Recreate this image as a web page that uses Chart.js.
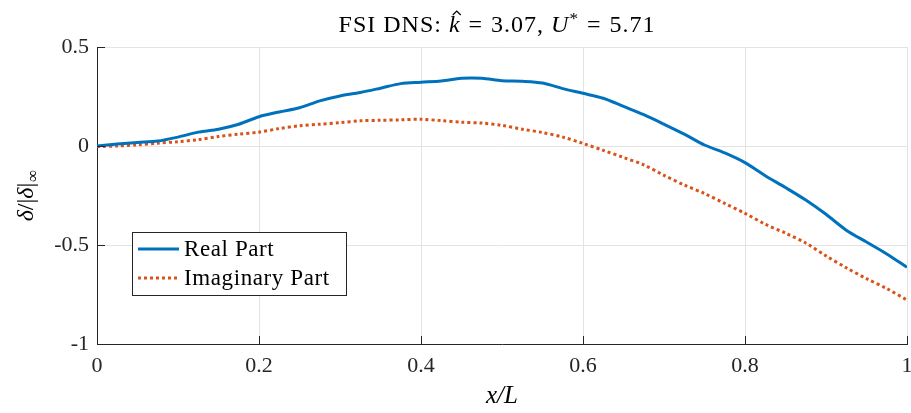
<!DOCTYPE html>
<html>
<head>
<meta charset="utf-8">
<script src="https://cdn.jsdelivr.net/npm/chart.js@4"></script>
<style>
  html, body { margin: 0; padding: 0; background: #fff; }
  #grafico { display: block; }
</style>
</head>
<body>
<canvas id="grafico" width="911" height="413"></canvas>
<script>
// dados
var posicoes = [0, 0.025, 0.05, 0.075, 0.1, 0.125, 0.15, 0.175, 0.2, 0.225, 0.25, 0.275, 0.3, 0.325, 0.35, 0.375, 0.4,
  0.425, 0.45, 0.475, 0.5, 0.525, 0.55, 0.575, 0.6, 0.625, 0.65, 0.675, 0.7, 0.725, 0.75, 0.775, 0.8, 0.825, 0.85,
  0.875, 0.9, 0.925, 0.95, 0.975, 1.0];
var parteReal = [0.0, 0.01, 0.018, 0.025, 0.045, 0.07, 0.085, 0.11, 0.148, 0.172, 0.193, 0.228, 0.253, 0.27, 0.292,
  0.315, 0.322, 0.328, 0.342, 0.342, 0.33, 0.327, 0.318, 0.29, 0.266, 0.241, 0.2, 0.158, 0.11, 0.06, 0.005, -0.035,
  -0.084, -0.15, -0.21, -0.273, -0.345, -0.425, -0.485, -0.545, -0.613];
var parteImag = [-0.003, 0.0, 0.006, 0.014, 0.022, 0.032, 0.048, 0.06, 0.07, 0.088, 0.102, 0.11, 0.118, 0.127, 0.13,
  0.132, 0.135, 0.128, 0.12, 0.116, 0.104, 0.085, 0.068, 0.045, 0.013, -0.022, -0.058, -0.095, -0.148, -0.197, -0.24,
  -0.29, -0.34, -0.395, -0.44, -0.49, -0.555, -0.615, -0.67, -0.72, -0.778];
var nomesSeries = ['Real Part', 'Imaginary Part'];
var ticksX = [0, 0.2, 0.4, 0.6, 0.8, 1];
var ticksY = [-1, -0.5, 0, 0.5];

var AZUL = '#0072BD';
var LARANJA = '#D95319';
var EIXO = '#262626';
var SERIF = '"Liberation Serif", "DejaVu Serif", serif';

function pontos(ys) {
  var lista = [];
  for (var i = 0; i < posicoes.length; i++) {
    lista.push({ x: posicoes[i], y: ys[i] });
  }
  return lista;
}

function fonte(t) {
  return (t.italico ? 'italic ' : '') + (t.tamanho || 22) + 'px ' + SERIF;
}

// desenha uma sequencia de pedacos de texto com estilos diferentes
function desenharTrechos(ctx, trechos, x, y, alinhamento) {
  var total = 0;
  trechos.forEach(function (t) {
    ctx.font = fonte(t);
    t.largura = ctx.measureText(t.texto).width;
    total += t.largura + (t.espaco || 0);
  });
  var cx = alinhamento == 'center' ? x - total / 2 : x;
  trechos.forEach(function (t) {
    ctx.font = fonte(t);
    ctx.fillText(t.texto, cx, y + (t.dy || 0));
    if (t.chapeu) {
      // chapeu do k
      var mx = cx + t.largura / 2 + 2;
      ctx.save();
      ctx.lineWidth = 1.2;
      ctx.strokeStyle = '#000';
      ctx.beginPath();
      ctx.moveTo(mx - 4, y - 17);
      ctx.lineTo(mx, y - 21);
      ctx.lineTo(mx + 4, y - 17);
      ctx.stroke();
      ctx.restore();
    }
    cx += t.largura + (t.espaco || 0);
  });
}

var pluginMatlab = {
  id: 'matlab',
  afterDraw: function (chart) {
    var ctx = chart.ctx;
    var area = chart.chartArea;
    var sx = chart.scales.x, sy = chart.scales.y;
    ctx.save();

    // ticks para dentro
    ctx.strokeStyle = EIXO;
    ctx.lineWidth = 1;
    ctx.beginPath();
    ticksX.forEach(function (v) {
      var px = Math.round(sx.getPixelForValue(v)) + 0.5;
      ctx.moveTo(px, area.bottom);
      ctx.lineTo(px, area.bottom - 8);
    });
    ticksY.forEach(function (v) {
      var py = Math.round(sy.getPixelForValue(v)) + 0.5;
      ctx.moveTo(area.left, py);
      ctx.lineTo(area.left + 8, py);
    });
    ctx.stroke();

    ctx.fillStyle = '#000';
    ctx.textBaseline = 'alphabetic';
    ctx.textAlign = 'left';

    // titulo
    ctx.letterSpacing = '1px';
    desenharTrechos(ctx, [
      { texto: 'FSI DNS: ', tamanho: 24 },
      { texto: 'k', italico: true, chapeu: true, tamanho: 24, espaco: 8 },
      { texto: '=', tamanho: 24, espaco: 8 },
      { texto: '3.07, ', tamanho: 24 },
      { texto: 'U', italico: true, tamanho: 24 },
      { texto: '*', tamanho: 17, dy: -8, espaco: 8 },
      { texto: '=', tamanho: 24, espaco: 8 },
      { texto: '5.71', tamanho: 24 }
    ], 497, 32, 'center');
    ctx.letterSpacing = '0px';

    // rotulo x
    desenharTrechos(ctx, [{ texto: 'x/L', italico: true, tamanho: 25 }], (area.left + area.right) / 2, 403, 'center');

    // rotulo y
    ctx.translate(33, (area.top + area.bottom) / 2);
    ctx.rotate(-Math.PI / 2);
    desenharTrechos(ctx, [
      { texto: 'δ', italico: true, tamanho: 24 },
      { texto: '/|', tamanho: 24 },
      { texto: 'δ', italico: true, tamanho: 24 },
      { texto: '|', tamanho: 24, espaco: 1 },
      { texto: '∞', tamanho: 17, dy: 5 }
    ], 0, 0, 'center');
    ctx.restore();

    // legenda
    ctx.save();
    var lx = 132, ly = 232, lw = 214, lh = 63;
    ctx.fillStyle = '#fff';
    ctx.fillRect(lx, ly, lw, lh);
    ctx.strokeStyle = EIXO;
    ctx.lineWidth = 1;
    ctx.strokeRect(lx + 0.5, ly + 0.5, lw, lh);
    chart.data.datasets.forEach(function (ds, i) {
      var yy = ly + 17 + i * 29;
      ctx.strokeStyle = ds.borderColor;
      ctx.lineWidth = 3;
      ctx.setLineDash(ds.borderDash || []);
      ctx.beginPath();
      ctx.moveTo(lx + 6, yy);
      ctx.lineTo(lx + 47, yy);
      ctx.stroke();
      ctx.setLineDash([]);
      ctx.fillStyle = '#000';
      ctx.font = '23px ' + SERIF;
      ctx.letterSpacing = '0.6px';
      ctx.textBaseline = 'middle';
      ctx.fillText(ds.label, lx + 52, yy + 1);
    });
    ctx.restore();
  }
};

var config = {
  type: 'line',
  data: {
    datasets: [
      {
        label: nomesSeries[0],
        data: pontos(parteReal),
        borderColor: AZUL,
        borderWidth: 3,
        pointRadius: 0,
        fill: false,
        tension: 0.3
      },
      {
        label: nomesSeries[1],
        data: pontos(parteImag),
        borderColor: LARANJA,
        borderWidth: 3,
        borderDash: [3, 3],
        pointRadius: 0,
        fill: false,
        tension: 0.3
      }
    ]
  },
  options: {
    responsive: false,
    animation: false,
    layout: { padding: { top: 47, right: 4, left: 0, bottom: 0 } },
    plugins: {
      legend: { display: false },
      tooltip: { enabled: false }
    },
    scales: {
      x: {
        type: 'linear',
        min: 0,
        max: 1,
        afterBuildTicks: function (ax) { ax.ticks = ticksX.map(function (v) { return { value: v }; }); },
        afterFit: function (ax) { ax.height = 69; ax.paddingLeft = 0; ax.paddingRight = 0; },
        ticks: {
          color: '#262626',
          padding: 9,
          maxRotation: 0,
          font: { family: SERIF, size: 22 },
          callback: function (v) { return String(v); }
        },
        grid: { color: '#e3e3e3', drawTicks: false },
        border: { color: EIXO, width: 1 }
      },
      y: {
        min: -1,
        max: 0.5,
        afterBuildTicks: function (ax) { ax.ticks = ticksY.map(function (v) { return { value: v }; }); },
        afterFit: function (ax) { ax.width = 97; ax.paddingTop = 0; ax.paddingBottom = 0; },
        ticks: {
          color: '#262626',
          padding: 8,
          font: { family: SERIF, size: 22 },
          callback: function (v) { return String(v); }
        },
        grid: { color: '#e3e3e3', drawTicks: false },
        border: { color: EIXO, width: 1 }
      }
    }
  },
  plugins: [pluginMatlab]
};

new Chart(document.getElementById('grafico'), config);
</script>
</body>
</html>
